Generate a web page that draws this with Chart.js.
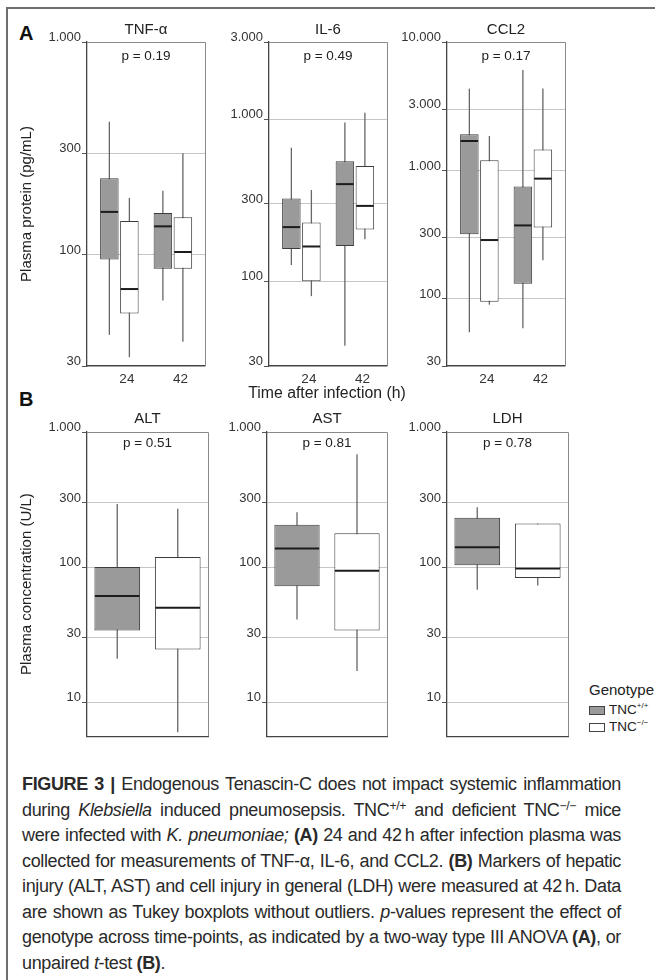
<!DOCTYPE html>
<html>
<head>
<meta charset="utf-8">
<script src="https://cdn.jsdelivr.net/npm/chart.js@4.4.1/dist/chart.umd.min.js"></script>
<style>
  body { margin: 0; background: #fff; }
  #fig { position: relative; width: 655px; height: 980px; overflow: hidden; font-family: "Liberation Sans", Arial, sans-serif; color: #222; }
  #fig canvas { position: absolute; }
  .frame { position: absolute; left: 6px; top: 7px; width: 700px; height: 1000px; border-left: 2px solid #6e6e6e; border-top: 2px solid #6e6e6e; }
  .plabel { position: absolute; font-weight: bold; font-size: 20px; line-height: 22px; color: #111; }
  .xtitle { position: absolute; left: 227px; top: 384px; width: 200px; text-align: center; font-size: 15.8px; line-height: 18px; color: #222; }
  .legend { position: absolute; font-size: 15px; line-height: 16px; }
  .legend .sw { position: absolute; width: 16px; height: 9px; box-sizing: border-box; border: 1px solid #444; }
  .legend .tx { position: absolute; font-size: 13.5px; line-height: 14px; white-space: nowrap; }
  .legend sup { font-size: 8px; vertical-align: 6px; line-height: 0; }
  .caption { position: absolute; left: 22px; top: 772px; width: 599px; font-size: 18px; letter-spacing: -0.35px; color: #2a2a2a; }
  .caption div { height: 25.5px; line-height: 25.5px; text-align: justify; text-align-last: justify; white-space: nowrap; }
  .caption div.last { text-align-last: left; }
  .caption sup { font-size: 0.68em; line-height: 0; vertical-align: 0.5em; }
</style>
</head>
<body>
<div id="fig">
  <div class="frame"></div>
  <div class="plabel" style="left:19px;top:22px">A</div>
  <div class="plabel" style="left:19px;top:388px">B</div>

  <canvas id="tnf" width="196" height="396" style="left:14px;top:10px"></canvas>
  <canvas id="il6" width="163" height="396" style="left:229px;top:10px"></canvas>
  <canvas id="ccl2" width="170" height="396" style="left:400px;top:10px"></canvas>
  <canvas id="alt" width="199" height="345" style="left:14px;top:400px"></canvas>
  <canvas id="ast" width="165" height="345" style="left:227px;top:400px"></canvas>
  <canvas id="ldh" width="166" height="345" style="left:407px;top:400px"></canvas>

  <div class="xtitle">Time after infection (h)</div>

  <div class="legend" style="left:589px;top:682px;width:66px;height:60px">
    <div style="position:absolute;left:0;top:0">Genotype</div>
    <div class="sw" style="left:0;top:24px;background:#9a9a9a"></div>
    <div class="tx" style="left:20px;top:21px">TNC<sup>+/+</sup></div>
    <div class="sw" style="left:0;top:41px;background:#fff"></div>
    <div class="tx" style="left:20px;top:38px">TNC<sup>&minus;/&minus;</sup></div>
  </div>

  <div class="caption">
    <div><b>FIGURE 3 |</b> Endogenous Tenascin-C does not impact systemic inflammation</div>
    <div>during <i>Klebsiella</i> induced pneumosepsis. TNC<sup>+/+</sup> and deficient TNC<sup>&minus;/&minus;</sup> mice</div>
    <div>were infected with <i>K. pneumoniae;</i> <b>(A)</b> 24 and 42&#8201;h after infection plasma was</div>
    <div>collected for measurements of TNF-&alpha;, IL-6, and CCL2. <b>(B)</b> Markers of hepatic</div>
    <div>injury (ALT, AST) and cell injury in general (LDH) were measured at 42&#8201;h. Data</div>
    <div>are shown as Tukey boxplots without outliers. <i>p</i>-values represent the effect of</div>
    <div>genotype across time-points, as indicated by a two-way type III ANOVA <b>(A)</b>, or</div>
    <div class="last">unpaired <i>t</i>-test <b>(B)</b>.</div>
  </div>
</div>

<script>
  Chart.defaults.font.family = "'Liberation Sans', Arial, sans-serif";
  Chart.defaults.color = '#333';

  // Time points (h)
  const timeLabels = ['24', '42'];

  // Box stats per group: [lower whisker, Q1, median, Q3, upper whisker]
  const tnfWT = [[42, 95, 159, 229, 422], [61, 86, 136, 157, 200]];
  const tnfKO = [[33, 53, 69, 144, 185], [39, 86, 103, 150, 300]];
  const il6WT = [[126, 158, 216, 324, 668], [40, 165, 398, 551, 954]];
  const il6KO = [[81, 100, 164, 231, 366], [182, 209, 292, 515, 1099]];
  const ccl2WT = [[55, 318, 1694, 1910, 4335], [59, 131, 373, 748, 6053]];
  const ccl2KO = [[90, 95, 287, 1199, 1853], [200, 360, 863, 1452, 4335]];
  const altWT = [[21, 34, 61, 100, 293]];
  const altKO = [[6, 24.5, 50, 119, 270]];
  const astWT = [[41, 72, 137, 206, 255]];
  const astKO = [[17, 34, 94, 178, 685]];
  const ldhWT = [[68, 103, 140, 232, 277]];
  const ldhKO = [[73, 83, 97.5, 210, 210]];

  // Titles and p-values
  const panelTitles = ['TNF-α', 'IL-6', 'CCL2', 'ALT', 'AST', 'LDH'];
  const pValues = ['p = 0.19', 'p = 0.49', 'p = 0.17', 'p = 0.51', 'p = 0.81', 'p = 0.78'];

  // Y tick values
  const ticksTnf = [30, 100, 300, 1000];
  const ticksIl6 = [30, 100, 300, 1000, 3000];
  const ticksCcl2 = [30, 100, 300, 1000, 3000, 10000];
  const ticksB = [10, 30, 100, 300, 1000];

  function fmtTick(v) {
    return String(v).replace(/\B(?=(\d{3})+(?!\d))/g, '.');
  }

  // whiskers, medians, frame and panel texts
  const boxPlugin = {
    id: 'boxStats',
    beforeDatasetsDraw(chart) {
      const {ctx, scales: {y}} = chart;
      ctx.save();
      ctx.strokeStyle = '#666';
      ctx.lineWidth = 1.3;
      chart.data.datasets.forEach((ds, i) => {
        chart.getDatasetMeta(i).data.forEach((bar, j) => {
          const s = ds.stats[j];
          ctx.beginPath();
          ctx.moveTo(bar.x, y.getPixelForValue(s[0]));
          ctx.lineTo(bar.x, y.getPixelForValue(s[4]));
          ctx.stroke();
        });
      });
      ctx.restore();
    },
    afterDatasetsDraw(chart) {
      const {ctx, scales: {y}} = chart;
      ctx.save();
      ctx.strokeStyle = '#1c1c1c';
      ctx.lineWidth = 2;
      chart.data.datasets.forEach((ds, i) => {
        chart.getDatasetMeta(i).data.forEach((bar, j) => {
          const py = y.getPixelForValue(ds.stats[j][2]);
          ctx.beginPath();
          ctx.moveTo(bar.x - bar.width / 2 + 0.5, py);
          ctx.lineTo(bar.x + bar.width / 2 - 0.5, py);
          ctx.stroke();
        });
      });
      ctx.restore();
    },
    afterDraw(chart, args, opts) {
      const {ctx, chartArea: a} = chart;
      ctx.save();
      ctx.strokeStyle = '#8a8a8a';
      ctx.lineWidth = 1;
      ctx.beginPath();
      ctx.moveTo(a.left, a.top + 0.5);
      ctx.lineTo(a.right + 0.5, a.top + 0.5);
      ctx.lineTo(a.right + 0.5, a.bottom);
      ctx.stroke();
      const cx = (a.left + a.right) / 2;
      ctx.fillStyle = '#222';
      ctx.textAlign = 'center';
      ctx.textBaseline = 'middle';
      ctx.font = "15px 'Liberation Sans', Arial, sans-serif";
      ctx.fillText(opts.title, cx, a.top + opts.titleDy);
      ctx.font = "13.5px 'Liberation Sans', Arial, sans-serif";
      ctx.fillText(opts.p, cx, a.top + opts.pDy);
      ctx.restore();
    }
  };

  function makeSet(label, stats, fill, o) {
    return {
      label: label,
      data: stats.map((s, i) => ({x: i + 1, y: [s[1], s[3]]})),
      stats: stats,
      backgroundColor: fill,
      borderColor: '#3c3c3c',
      borderWidth: 1,
      borderSkipped: false,
      categoryPercentage: o.catPct,
      barPercentage: o.barPct
    };
  }

  function boxChart(id, o) {
    const ctx = document.getElementById(id).getContext('2d');
    return new Chart(ctx, {
      type: 'bar',
      data: {
        datasets: [
          makeSet('TNC+/+', o.wt, '#9a9a9a', o),
          makeSet('TNC-/-', o.ko, '#ffffff', o)
        ]
      },
      options: {
        responsive: false,
        animation: false,
        devicePixelRatio: 1,
        layout: {
          padding: {top: 32, right: 5, bottom: 0, left: 0}
        },
        plugins: {
          legend: {display: false},
          tooltip: {enabled: false},
          boxStats: {title: o.title, p: o.p, titleDy: o.titleDy, pDy: o.pDy}
        },
        scales: {
          x: {
            type: 'linear',
            offset: false,
            min: o.xMin,
            max: o.xMax,
            afterBuildTicks: s => { s.ticks = o.xTicks.map(v => ({value: v})); },
            afterFit: s => { s.height = o.xH; },
            ticks: {
              display: o.showX,
              autoSkip: false,
              maxRotation: 0,
              padding: 5,
              labelOffset: 7.5,
              font: {size: 13.5},
              color: '#333',
              callback: v => timeLabels[v - 1]
            },
            grid: {display: false, drawTicks: false},
            border: {color: '#444', width: 1.3}
          },
          y: {
            type: 'logarithmic',
            min: o.yMin,
            max: o.yMax,
            afterBuildTicks: s => { s.ticks = o.yTicks.map(v => ({value: v})); },
            afterFit: s => { s.width = o.yW; },
            ticks: {
              autoSkip: false,
              padding: 1,
              labelOffset: -4.5,
              font: {size: 13},
              color: '#333',
              callback: v => fmtTick(v)
            },
            grid: {
              color: c => (c.tick && c.tick.value === o.yMax) ? 'rgba(0,0,0,0)' : '#c6c6c6',
              tickColor: '#555',
              tickLength: 5,
              lineWidth: 1
            },
            border: {color: '#444', width: 1.3},
            title: {
              display: !!o.yTitle,
              text: o.yTitle,
              font: {size: 15},
              color: '#222',
              padding: {top: 4, bottom: 0}
            }
          }
        }
      },
      plugins: [boxPlugin]
    });
  }

  // Panel A - plasma proteins at 24 and 42 h
  const styleA = {
    xMin: 0.395, xMax: 2.6, xTicks: [1, 2], xH: 40, showX: true,
    yMin: 30, catPct: 0.748, barPct: 0.925, titleDy: -12, pDy: 14
  };
  boxChart('tnf', Object.assign({}, styleA, {
    wt: tnfWT, ko: tnfKO, title: panelTitles[0], p: pValues[0],
    yMax: 1000, yTicks: ticksTnf, yW: 73, yTitle: 'Plasma protein (pg/mL)'
  }));
  boxChart('il6', Object.assign({}, styleA, {
    wt: il6WT, ko: il6KO, title: panelTitles[1], p: pValues[1],
    yMax: 3000, yTicks: ticksIl6, yW: 40, yTitle: ''
  }));
  boxChart('ccl2', Object.assign({}, styleA, {
    wt: ccl2WT, ko: ccl2KO, title: panelTitles[2], p: pValues[2],
    yMax: 10000, yTicks: ticksCcl2, yW: 47, yTitle: ''
  }));

  // Panel B - liver / cell injury markers at 42 h
  const styleB = {
    xMin: 0.5, xMax: 1.5, xTicks: [1], xH: 4, showX: false,
    yMin: 5.6, yMax: 1000, yTicks: ticksB, catPct: 1, barPct: 0.755,
    titleDy: -13, pDy: 11
  };
  boxChart('alt', Object.assign({}, styleB, {
    wt: altWT, ko: altKO, title: panelTitles[3], p: pValues[3],
    yW: 73, yTitle: 'Plasma concentration (U/L)'
  }));
  boxChart('ast', Object.assign({}, styleB, {
    wt: astWT, ko: astKO, title: panelTitles[4], p: pValues[4], yW: 40, yTitle: ''
  }));
  boxChart('ldh', Object.assign({}, styleB, {
    wt: ldhWT, ko: ldhKO, title: panelTitles[5], p: pValues[5], yW: 40, yTitle: ''
  }));
</script>
</body>
</html>
